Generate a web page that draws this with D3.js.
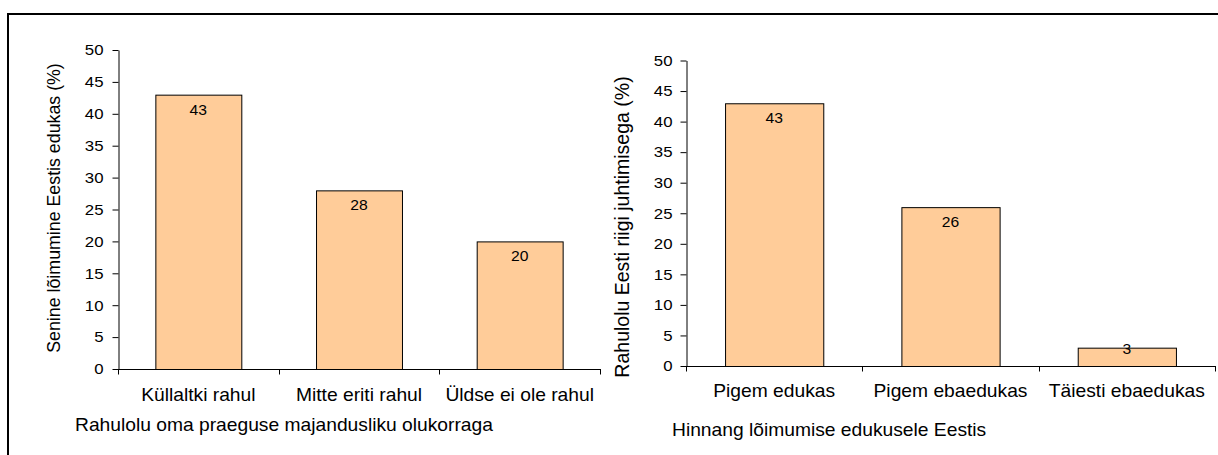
<!DOCTYPE html>
<html>
<head>
<meta charset="utf-8">
<script src="https://cdn.jsdelivr.net/npm/d3@7"></script>
<style>
  html, body { margin: 0; padding: 0; background: #fff; }
  svg { display: block; }
  text { font-family: "Liberation Sans", Arial, sans-serif; fill: #000; }
</style>
</head>
<body>
<svg id="chart" width="1218" height="455"></svg>
<script>
// ---- Data ----
const leftCategories = ["Küllaltki rahul", "Mitte eriti rahul", "Üldse ei ole rahul"];
const leftValues = [43, 28, 20];
const leftYTitle = "Senine lõimumine Eestis edukas (%)";
const leftXTitle = "Rahulolu oma praeguse majandusliku olukorraga";

const rightCategories = ["Pigem edukas", "Pigem ebaedukas", "Täiesti ebaedukas"];
const rightValues = [43, 26, 3];
const rightYTitle = "Rahulolu Eesti riigi juhtimisega (%)";
const rightXTitle = "Hinnang lõimumise edukusele Eestis";

const yTicks = [0, 5, 10, 15, 20, 25, 30, 35, 40, 45, 50];
const yDomain = [0, 50];

// ---- Drawing ----
const svg = d3.select("#chart");
const SX = 1.1;     // horizontal stretch of horizontal texts
const SXN = 1.12;   // stretch for numbers

// frame (clipped at right and bottom)
svg.append("line").attr("x1", 8).attr("y1", 14).attr("x2", 1220).attr("y2", 14)
  .attr("stroke", "#000").attr("stroke-width", 2);
svg.append("line").attr("x1", 8).attr("y1", 13).attr("x2", 8).attr("y2", 460)
  .attr("stroke", "#000").attr("stroke-width", 2);

function stretchedText(parent, x, y, str, size, anchor, sx) {
  return parent.append("text")
    .attr("transform", `translate(${x},${y}) scale(${sx},1)`)
    .attr("text-anchor", anchor)
    .attr("dy", "0.35em")
    .style("font-size", size + "px")
    .text(str);
}

function drawChart(cfg) {
  const g = svg.append("g");
  const x = d3.scaleBand()
    .domain(cfg.categories)
    .range([cfg.x0, cfg.x1])
    .paddingInner(cfg.pad)
    .paddingOuter(cfg.pad / 2);
  const y = d3.scaleLinear().domain(yDomain).range([cfg.y0, cfg.y1]);

  // bars
  g.selectAll("rect.bar")
    .data(cfg.values)
    .join("rect")
    .attr("class", "bar")
    .attr("x", (d, i) => x(cfg.categories[i]) + 0.5)
    .attr("y", d => y(d) + 0.5)
    .attr("width", x.bandwidth())
    .attr("height", d => y(0) - y(d))
    .attr("fill", "#FFCC99")
    .attr("stroke", "#000")
    .attr("stroke-width", 1);

  // value labels
  g.selectAll("g.vlabel")
    .data(cfg.values)
    .join("g")
    .attr("class", "vlabel")
    .each(function (d, i) {
      const cx = x(cfg.categories[i]) + x.bandwidth() / 2;
      const cy = Math.min(y(d) + 15, y(0) - 17);
      stretchedText(d3.select(this), cx, cy, d, 14, "middle", SXN);
    });

  // y axis
  const yAxis = d3.axisLeft(y).tickValues(yTicks).tickSize(6).tickSizeOuter(0).tickPadding(cfg.tickPad);
  const ya = g.append("g").attr("transform", `translate(${cfg.x0 + 0.5},0)`).call(yAxis);
  ya.select(".domain").attr("stroke", "#000");
  ya.selectAll(".tick line").attr("stroke", "#000");
  ya.selectAll(".tick text")
    .attr("x", -(6 + cfg.tickPad) / SXN)
    .attr("transform", `scale(${SXN},1)`)
    .style("font-size", "15px")
    .style("font-family", '"Liberation Sans", Arial, sans-serif');

  // x axis baseline and category boundary ticks
  const bottom = Math.round(y(0)) + 0.5;
  g.append("line").attr("x1", cfg.x0).attr("x2", cfg.x1 + 1)
    .attr("y1", bottom).attr("y2", bottom).attr("stroke", "#000");
  const bounds = d3.range(cfg.categories.length + 1).map(i => cfg.x0 + i * x.step());
  g.selectAll("line.ctick").data(bounds).join("line")
    .attr("class", "ctick")
    .attr("x1", d => Math.round(d) + 0.5).attr("x2", d => Math.round(d) + 0.5)
    .attr("y1", bottom).attr("y2", bottom + 5)
    .attr("stroke", "#000");

  // category labels
  cfg.categories.forEach(c => {
    stretchedText(g, x(c) + x.bandwidth() / 2, cfg.catY, c, 17.5, "middle", SX);
  });

  // x title
  stretchedText(g, cfg.xTitleX, cfg.xTitleY, cfg.xTitle, 17.5, "start", SX);

  // y title
  g.append("text")
    .attr("transform", `translate(${cfg.yTitleX},${cfg.yTitleY}) rotate(-90)`)
    .attr("text-anchor", "middle")
    .attr("dy", "0.35em")
    .style("font-size", cfg.yTitleSize + "px")
    .text(cfg.yTitle);
}

drawChart({
  categories: leftCategories, values: leftValues,
  x0: 118, x1: 600, y0: 369, y1: 50, pad: 0.465, tickPad: 9,
  catY: 395, xTitle: leftXTitle, xTitleX: 75, xTitleY: 425,
  yTitle: leftYTitle, yTitleX: 54, yTitleY: 208, yTitleSize: 17.8
});

drawChart({
  categories: rightCategories, values: rightValues,
  x0: 686, x1: 1215, y0: 366, y1: 60.5, pad: 0.443, tickPad: 8,
  catY: 391, xTitle: rightXTitle, xTitleX: 672, xTitleY: 430,
  yTitle: rightYTitle, yTitleX: 622, yTitleY: 227, yTitleSize: 19.5
});
</script>
</body>
</html>
